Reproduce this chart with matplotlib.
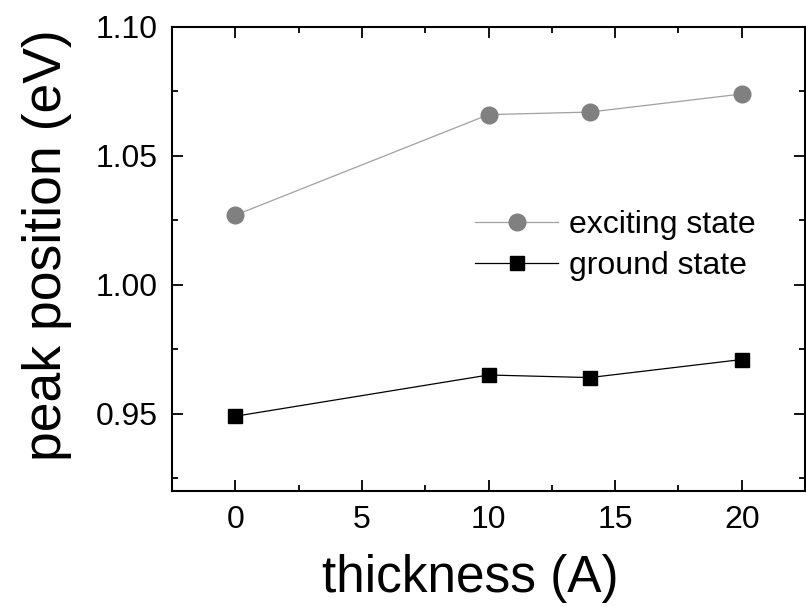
import matplotlib
matplotlib.use("Agg")
import matplotlib.pyplot as plt
from matplotlib.ticker import MultipleLocator

plt.rcParams['font.family'] = ['Liberation Sans', 'DejaVu Sans']

thickness = [0, 10, 14, 20]
exciting = [1.027, 1.066, 1.067, 1.074]
ground = [0.949, 0.965, 0.964, 0.971]

fig = plt.figure(figsize=(8.06, 6.06), dpi=100)
ax = fig.add_axes([172 / 806, 1 - 491 / 606, 633 / 806, 464 / 606])

ax.plot(thickness, exciting, color='#a0a0a0', lw=0.9, marker='o', ms=12,
        mfc='#808080', mec='#808080', label='exciting state')
ax.plot(thickness, ground, color='black', lw=0.9, marker='s', ms=10,
        mfc='black', mec='black', label='ground state')

ax.set_xlim(-2.5, 22.5)
ax.set_ylim(0.92, 1.10)
ax.xaxis.set_major_locator(MultipleLocator(5))
ax.xaxis.set_minor_locator(MultipleLocator(2.5))
ax.yaxis.set_minor_locator(MultipleLocator(0.025))
ax.set_yticks([0.95, 1.00, 1.05, 1.10])
ax.set_yticklabels(['0.95', '1.00', '1.05', '1.10'])

ax.tick_params(which='both', direction='in', top=True, right=True, width=1.3,
               labelsize=23)
ax.tick_params(which='major', length=8, pad=10)
ax.tick_params(which='minor', length=4.5)
for s in ax.spines.values():
    s.set_linewidth(1.5)

ax.set_xlabel('thickness (A)', fontsize=37, labelpad=14)
ax.set_ylabel('peak position (eV)', fontsize=38.5, labelpad=17)
ax.xaxis.label.set_x(0.471)
ax.yaxis.label.set_y(0.53)

ax.legend(loc='center left', bbox_to_anchor=(0.479, 0.529), frameon=False,
          fontsize=23, handlelength=2.6, handletextpad=0.35, labelspacing=0.36,
          borderpad=0, borderaxespad=0)

fig.savefig('out.png', dpi=100)
